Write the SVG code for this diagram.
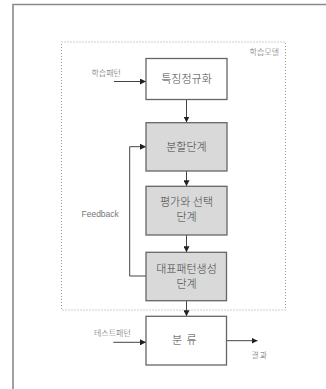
<svg xmlns="http://www.w3.org/2000/svg" width="326" height="389" viewBox="0 0 326 389">
<style>
.frame{fill:none;stroke:#8a8a8a;stroke-width:1.6}
.model{fill:none;stroke:#9a9a9a;stroke-width:1;stroke-dasharray:1 2}
.box{stroke:#666;stroke-width:1.3}
.white{fill:#fff}
.grey{fill:#d9d9d9}
.btxt{font-family:"Noto Sans CJK KR","Noto Sans",sans-serif;font-size:11px;font-weight:300;fill:#444;text-anchor:middle}
.lbl{font-family:"Noto Sans CJK KR","Noto Sans",sans-serif;font-size:8px;font-weight:300;fill:#666}
.fb{font-family:"Liberation Sans","Noto Sans",sans-serif;font-size:8.5px;fill:#777}
.con{fill:none;stroke:#444;stroke-width:1}
</style>
<defs>
<marker id="arr" viewBox="0 0 6 6" refX="6" refY="3" markerWidth="6" markerHeight="6" markerUnits="userSpaceOnUse" orient="auto">
<path d="M0,0 L6,3 L0,6 z" fill="#222"/>
</marker>
</defs>
<rect width="326" height="389" fill="#fff"/>
<path class="frame" d="M13,389 V4.5 H326"/>
<g id="model">
<rect class="model" x="61.5" y="42" width="224" height="268"/>
<text class="lbl" x="279" y="55" text-anchor="end">학습모델</text>
</g>
<g id="connectors">
<path class="con" d="M114,81.5 H146" marker-end="url(#arr)"/>
<path class="con" d="M186.5,99.5 V122.5" marker-end="url(#arr)"/>
<path class="con" d="M186.5,171 V186.3" marker-end="url(#arr)"/>
<path class="con" d="M186.5,235 V252.3" marker-end="url(#arr)"/>
<path class="con" d="M186.5,300.7 V316.3" marker-end="url(#arr)"/>
<path class="con" d="M146,276 H129.7 V146.7 H146" marker-end="url(#arr)"/>
<path class="con" d="M113.3,342.3 H146" marker-end="url(#arr)"/>
<path class="con" d="M226.5,340.7 H257.5" marker-end="url(#arr)"/>
<text class="lbl" x="91.5" y="75.5">학습패턴</text>
<text class="fb" x="81.5" y="216.5">Feedback</text>
<text class="lbl" x="94" y="335.5">테스트패턴</text>
<text class="lbl" x="251.5" y="358" letter-spacing="1">결과</text>
</g>
<g id="n1">
<rect class="box white" x="146" y="58.5" width="81" height="41"/>
<text class="btxt" x="186.5" y="83">특징정규화</text>
</g>
<g id="n2">
<rect class="box grey" x="146" y="122.7" width="81" height="48.3"/>
<text class="btxt" x="186.5" y="150.5">분할단계</text>
</g>
<g id="n3">
<rect class="box grey" x="146" y="186.3" width="81" height="48.7"/>
<text class="btxt" x="186.5" y="206">평가와 선택</text>
<text class="btxt" x="186.5" y="220.5">단계</text>
</g>
<g id="n4">
<rect class="box grey" x="146" y="252.3" width="80.5" height="48.4"/>
<text class="btxt" x="186.5" y="273">대표패턴생성</text>
<text class="btxt" x="186.5" y="287.5">단계</text>
</g>
<g id="n5">
<rect class="box white" x="146" y="316.3" width="80.5" height="48.7"/>
<text class="btxt" x="186.5" y="344" letter-spacing="4.5">분류</text>
</g>
</svg>
